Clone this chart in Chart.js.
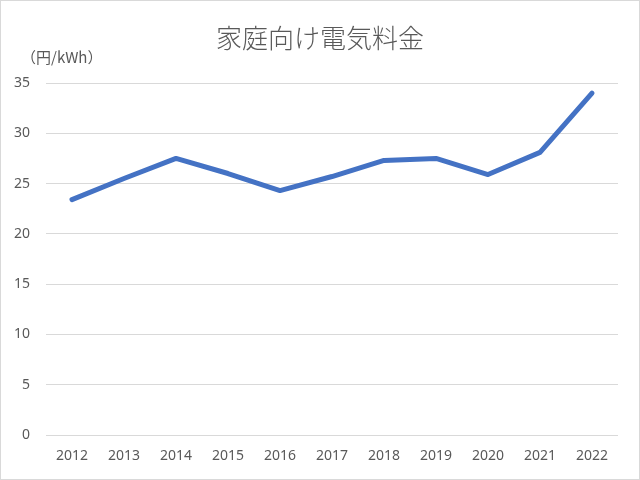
<!DOCTYPE html>
<html>
<head>
<meta charset="utf-8">
<script src="https://cdn.jsdelivr.net/npm/chart.js@4/dist/chart.umd.min.js"></script>
<style>
  html, body { margin: 0; padding: 0; background: #fff; }
  #wrap { position: relative; width: 638px; height: 478px; border: 1px solid #d9d9d9; }
</style>
</head>
<body>
<div id="wrap"><canvas id="chart"></canvas></div>
<script>
// データ
const years = ['2012', '2013', '2014', '2015', '2016', '2017', '2018', '2019', '2020', '2021', '2022']
const prices = [23.4, 25.5, 27.5, 26.0, 24.3, 25.7, 27.3, 27.5, 25.9, 28.1, 34.0]
const yTicks = [0, 5, 10, 15, 20, 25, 30, 35]

const chartTitle = '家庭向け電気料金'
const unitLabel = '（円/kWh）'

// タイトルと単位を描く
const labelPlugin = {
  id: 'labels',
  afterDraw(chart) {
    const ctx = chart.ctx
    ctx.save()
    ctx.fillStyle = '#595959'
    ctx.textBaseline = 'middle'
    ctx.textAlign = 'center'
    ctx.font = '300 26px "Noto Sans CJK JP"'
    ctx.fillText(chartTitle, 319, 37)
    ctx.textAlign = 'left'
    ctx.font = '15px "Noto Sans CJK JP"'
    ctx.fillText(unitLabel, 20, 56)
    ctx.restore()
  }
}

const tickFont = { family: '"Noto Sans", sans-serif', size: 14 }

new Chart(document.getElementById('chart'), {
  type: 'line',
  data: {
    labels: years,
    datasets: [{
      data: prices,
      borderColor: '#4472C4',
      borderWidth: 5,
      pointRadius: 0,
      borderCapStyle: 'round',
      borderJoinStyle: 'round',
      tension: 0
    }]
  },
  options: {
    responsive: true,
    maintainAspectRatio: false,
    animation: false,
    layout: { padding: { top: 82, right: 21, left: 0, bottom: 0 } },
    plugins: {
      legend: { display: false },
      title: { display: false },
      tooltip: { enabled: false }
    },
    scales: {
      x: {
        offset: true,
        afterFit(axis) { axis.height = 44 },
        grid: { display: false, drawTicks: false },
        border: { display: false },
        ticks: { color: '#595959', font: tickFont, padding: 13 }
      },
      y: {
        min: 0,
        max: 35,
        afterFit(axis) { axis.width = 45 },
        afterBuildTicks(axis) { axis.ticks = yTicks.map(v => ({ value: v })) },
        grid: { color: '#d9d9d9', lineWidth: 1, drawTicks: false },
        border: { display: false },
        ticks: { color: '#595959', font: tickFont, padding: 16 }
      }
    }
  },
  plugins: [labelPlugin]
})
</script>
</body>
</html>
